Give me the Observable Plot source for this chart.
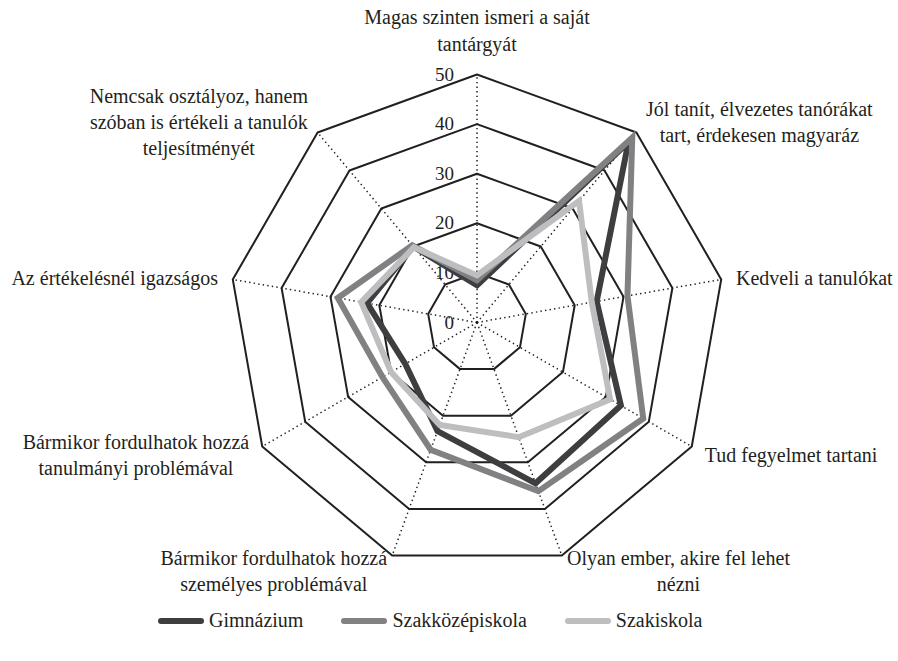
<!DOCTYPE html>
<html>
<head>
<meta charset="utf-8">
<script src="https://cdn.jsdelivr.net/npm/d3@7"></script>
<script src="https://cdn.jsdelivr.net/npm/@observablehq/plot@0.6"></script>
<style>
  html, body { margin: 0; padding: 0; background: #fff; }
  #chart { width: 898px; }
  #legend { width: 898px; height: 61px; box-sizing: border-box; padding-left: 158px; display: flex; justify-content: flex-start; align-items: center; gap: 38px; font-family: 'Liberation Serif', 'DejaVu Serif', serif; font-size: 20px; color: #231f20; margin-top: -10px; }
  .item { display: flex; align-items: center; gap: 5px; }
  .sw { width: 46px; height: 6px; border-radius: 3px; }
</style>
</head>
<body>
<div id="chart"></div>
<div id="legend"></div>
<script>
const categories = [
  "Magas szinten ismeri a saját\ntantárgyát",
  "Jól tanít, élvezetes tanórákat\ntart, érdekesen magyaráz",
  "Kedveli a tanulókat",
  "Tud fegyelmet tartani",
  "Olyan ember, akire fel lehet\nnézni",
  "Bármikor fordulhatok hozzá\nszemélyes problémával",
  "Bármikor fordulhatok hozzá\ntanulmányi problémával",
  "Az értékelésnél igazságos",
  "Nemcsak osztályoz, hanem\nszóban is értékeli a tanulók\nteljesítményét"
];
const seriesNames = ["Gimnázium", "Szakközépiskola", "Szakiskola"];
const gimnazium  = [7.5, 47.5, 24.5, 33.5, 34.5, 23.3, 16.7, 22.5, 20.0];
const szakkozep  = [8.5, 48.7, 30.8, 38.7, 36.2, 27.3, 22.0, 28.5, 20.3];
const szakiskola = [9.5, 32.0, 23.5, 31.0, 24.6, 22.0, 20.0, 23.7, 19.8];
const tickValues = [0, 10, 20, 30, 40, 50];
const colors = ["#3e3e40", "#818184", "#bdbec0"];

const FONT = "'Liberation Serif', 'DejaVu Serif', serif";
const W = 898, H = 600, cx = 476.5, cy = 322, k = 4.96;
const n = categories.length;
const maxV = d3.max(tickValues);
const ang = i => 2 * Math.PI * i / n;
const pol = (i, v) => [v * Math.sin(ang(i)), v * Math.cos(ang(i))];

const rings = [];
tickValues.filter(t => t > 0).forEach(t => {
  for (let i = 0; i < n; i++) { const [x, y] = pol(i, t); rings.push({x, y, ring: t}); }
});
const spokes = d3.range(n).map(i => { const [x, y] = pol(i, maxV); return {x1: 0, y1: 0, x2: x, y2: y}; });

const allSeries = [gimnazium, szakkozep, szakiskola];
const pts = [];
allSeries.forEach((vals, s) => vals.forEach((v, i) => { const [x, y] = pol(i, v); pts.push({x, y, series: seriesNames[s]}); }));

const tickData = tickValues.map(t => ({x: 0, y: t, label: String(t)}));

const ctx = document.createElement("canvas").getContext("2d");
ctx.font = "20px " + FONT;
const R = maxV + 15 / k;
const topLabels = [], sideLabels = [];
categories.forEach((c, i) => {
  const [px, py] = pol(i, R);
  const s = Math.sin(ang(i));
  const w = d3.max(c.split("\n"), l => ctx.measureText(l).width) / k;
  if (Math.abs(s) < 0.05) topLabels.push({x: px, y: py, text: c});
  else sideLabels.push({x: px + Math.sign(s) * w / 2, y: py, text: c});
});

const ink = "#231f20";
const chart = Plot.plot({
  width: W, height: H,
  margin: 0,
  x: {domain: [-cx / k, (W - cx) / k], range: [0, W], axis: null},
  y: {domain: [-(H - cy) / k, cy / k], range: [H, 0], axis: null},
  color: {domain: seriesNames, range: colors},
  style: {fontFamily: FONT, background: "white"},
  marks: [
    Plot.link(spokes, {x1: "x1", y1: "y1", x2: "x2", y2: "y2", stroke: ink, strokeWidth: 1.5, strokeDasharray: "1.4,3.2"}),
    Plot.line(rings, {x: "x", y: "y", z: "ring", curve: "linear-closed", stroke: ink, strokeWidth: 2}),
    Plot.text(tickData, {x: "x", y: "y", text: "label", textAnchor: "end", dx: -23, fontSize: 19, fill: ink, fontFamily: FONT}),
    Plot.line(pts, {x: "x", y: "y", z: "series", stroke: "series", curve: "linear-closed", strokeWidth: 6, strokeLinejoin: "miter", strokeMiterlimit: 10}),
    Plot.text(topLabels, {x: "x", y: "y", text: "text", textAnchor: "middle", lineAnchor: "bottom", lineHeight: 1.35, dy: -9, fontSize: 20, fill: ink, fontFamily: FONT}),
    Plot.text(sideLabels, {x: "x", y: "y", text: "text", textAnchor: "middle", lineAnchor: "middle", lineHeight: 1.3, fontSize: 20, fill: ink, fontFamily: FONT})
  ]
});
document.getElementById("chart").appendChild(chart);

const legend = document.getElementById("legend");
seriesNames.forEach((name, i) => {
  const it = document.createElement("div"); it.className = "item";
  const sw = document.createElement("div"); sw.className = "sw"; sw.style.background = colors[i];
  const tx = document.createElement("span"); tx.textContent = name;
  it.appendChild(sw); it.appendChild(tx); legend.appendChild(it);
});
</script>
</body>
</html>
